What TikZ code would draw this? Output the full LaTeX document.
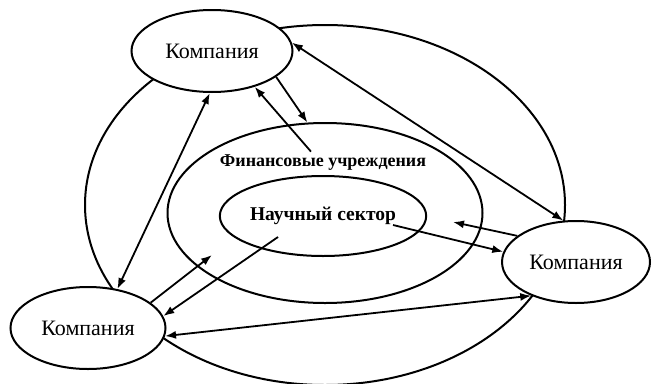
\documentclass[tikz,border=0pt]{standalone}
\usepackage{fontspec}
\setmainfont{Liberation Serif}
\usepackage{tikz}
\usetikzlibrary{shapes.geometric, arrows.meta, calc}

\begin{document}
\begin{tikzpicture}[x=1pt, y=-1pt,
  ring/.style={draw, ellipse, line width=2pt, inner sep=0pt},
  firm/.style={ring, fill=white, minimum height=82pt, font=\fontsize{22}{25}\selectfont},
  arr/.style={-{Latex[length=11pt,width=8pt]}, line width=1.8pt},
  darr/.style={{Latex[length=11pt,width=8pt]}-{Latex[length=11pt,width=8pt]}, line width=1.8pt},
]
  \useasboundingbox (0,0) rectangle (658,383);

  % Nested sectors
  \node[ring, minimum width=480pt, minimum height=360pt] (outer) at (325,205) {};
  \node[ring, minimum width=315pt, minimum height=180pt] (fin) at (325,213) {};
  \node[ring, minimum width=158pt, minimum height=80pt,
        font=\bfseries\fontsize{19.5}{22}\selectfont] (sci) at (323,216) {Научный сектор};
  \node[font=\bfseries\fontsize{18}{20}\selectfont] (finlabel) at (323,163) {Финансовые учреждения};

  % Companies
  \node[firm, minimum width=161pt] (tc) at (212,51)  {Компания};
  \node[firm, minimum width=148pt] (rc) at (576,262) {Компания};
  \node[firm, minimum width=155pt] (bc) at (88,328)  {Компания};

  \coordinate (finW) at (212,255);
  \coordinate (finE) at (453,222);
  \coordinate (sciW) at (278,237);
  \coordinate (sciE) at (393,225);

  \draw[darr] (tc.6) -- (rc.107);
  \draw[darr] (tc.267) -- (bc.53);
  \draw[darr] (bc.354) -- (rc.217);
  \draw[arr] (tc.338) -- (fin.101);
  \draw[arr] ([xshift=-12pt]finlabel.north) -- (tc.320);
  \draw[arr] (bc.22) -- (finW);
  \draw[arr] (rc.156) -- (finE);
  \draw[arr] (sciW) -- (bc.9);
  \draw[arr] (sciE) -- (rc.172);
\end{tikzpicture}
\end{document}
